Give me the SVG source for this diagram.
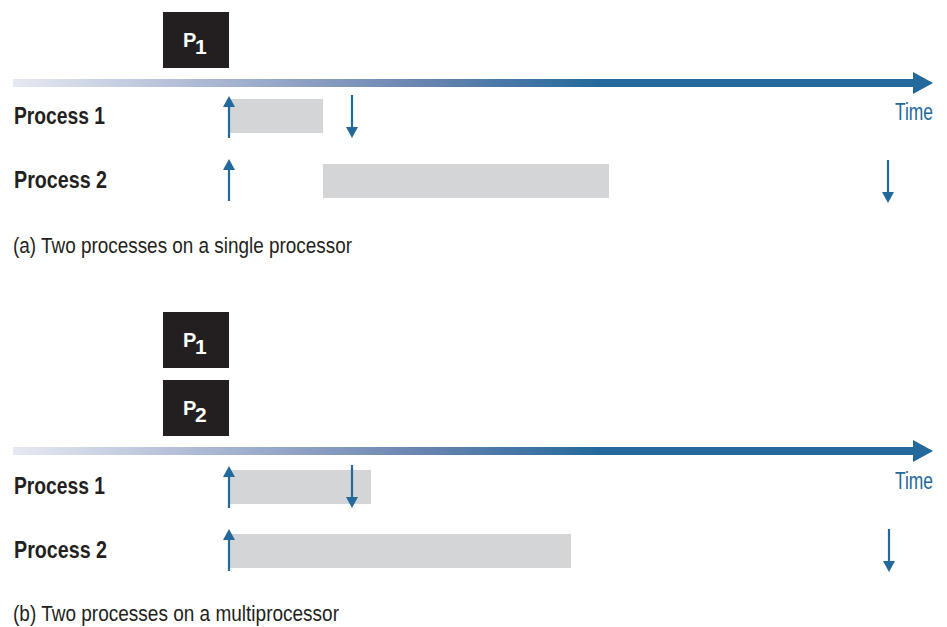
<svg xmlns="http://www.w3.org/2000/svg" width="947" height="627" viewBox="0 0 947 627">
  <style>
    .lbl { font-family: "Liberation Sans Narrow", "Liberation Sans", Arial, sans-serif; font-weight: bold; font-size: 23.5px; fill: #231f20; }
    .cap { font-family: "Liberation Sans Narrow", "Liberation Sans", Arial, sans-serif; font-size: 22px; fill: #231f20; }
    .time { font-family: "Liberation Sans Narrow", "Liberation Sans", Arial, sans-serif; font-size: 23.5px; fill: #24699b; }
    .proc { fill: #231f20; }
    .ptxt { font-family: "Liberation Sans Narrow", "Liberation Sans", Arial, sans-serif; font-weight: bold; font-size: 20px; fill: #ffffff; }
    .bar { fill: #d4d5d7; }
    .tick { stroke: #24699b; stroke-width: 2.2; fill: none; }
    .head { fill: #24699b; }
  </style>
  <defs>
    <linearGradient id="axisGrad" gradientUnits="userSpaceOnUse" x1="13" y1="0" x2="600" y2="0">
      <stop offset="0" stop-color="#e6e9f2"/>
      <stop offset="0.3" stop-color="#b0bcd6"/>
      <stop offset="0.68" stop-color="#6c86b2"/>
      <stop offset="1" stop-color="#24699b"/>
    </linearGradient>
    <!-- upward and downward event arrows -->
    <g id="up">
      <line class="tick" x1="0" y1="10" x2="0" y2="42"/>
      <polygon class="head" points="-6,11 6,11 0,0"/>
    </g>
    <g id="down">
      <line class="tick" x1="0" y1="0" x2="0" y2="33"/>
      <polygon class="head" points="-6,32 6,32 0,43"/>
    </g>
  </defs>

  <!-- (a) single processor -->
  <g id="a-processor-p1">
    <rect class="proc" x="163" y="12" width="66" height="56"/>
    <text class="ptxt" x="183" y="47">P<tspan x="195" y="54" font-size="21">1</tspan></text>
  </g>
  <g id="a-axis">
    <rect x="13" y="79" width="901" height="8" fill="url(#axisGrad)"/>
    <polygon class="head" points="913,72 933,83 913,94"/>
    <text class="time" x="895" y="120" textLength="38" lengthAdjust="spacingAndGlyphs">Time</text>
  </g>
  <g id="a-process1">
    <text class="lbl" x="14" y="124" textLength="91" lengthAdjust="spacingAndGlyphs">Process 1</text>
    <rect class="bar" x="230" y="99" width="93" height="34"/>
  </g>
  <g id="a-process2">
    <text class="lbl" x="14" y="188" textLength="93" lengthAdjust="spacingAndGlyphs">Process 2</text>
    <rect class="bar" x="323" y="164" width="286" height="34"/>
  </g>
  <g id="a-connectors">
    <use href="#up" x="229" y="96"/>
    <use href="#down" x="352" y="95"/>
    <use href="#up" x="229" y="159"/>
    <use href="#down" x="888" y="160"/>
  </g>
  <text class="cap" x="13" y="253" textLength="339" lengthAdjust="spacingAndGlyphs">(a) Two processes on a single processor</text>

  <!-- (b) multiprocessor -->
  <g id="b-processor-p1">
    <rect class="proc" x="163" y="312" width="66" height="56"/>
    <text class="ptxt" x="183" y="347">P<tspan x="195" y="354" font-size="21">1</tspan></text>
  </g>
  <g id="b-processor-p2">
    <rect class="proc" x="163" y="380" width="66" height="56"/>
    <text class="ptxt" x="183" y="415">P<tspan x="195" y="422" font-size="21">2</tspan></text>
  </g>
  <g id="b-axis">
    <rect x="13" y="447" width="901" height="8" fill="url(#axisGrad)"/>
    <polygon class="head" points="913,440 933,451 913,462"/>
    <text class="time" x="895" y="489" textLength="38" lengthAdjust="spacingAndGlyphs">Time</text>
  </g>
  <g id="b-process1">
    <text class="lbl" x="14" y="494" textLength="91" lengthAdjust="spacingAndGlyphs">Process 1</text>
    <rect class="bar" x="230" y="470" width="141" height="34"/>
  </g>
  <g id="b-process2">
    <text class="lbl" x="14" y="558" textLength="93" lengthAdjust="spacingAndGlyphs">Process 2</text>
    <rect class="bar" x="230" y="534" width="341" height="34"/>
  </g>
  <g id="b-connectors">
    <use href="#up" x="229" y="466"/>
    <use href="#down" x="352" y="465"/>
    <use href="#up" x="229" y="529"/>
    <use href="#down" x="889" y="529"/>
  </g>
  <text class="cap" x="13" y="621" textLength="326" lengthAdjust="spacingAndGlyphs">(b) Two processes on a multiprocessor</text>
</svg>
